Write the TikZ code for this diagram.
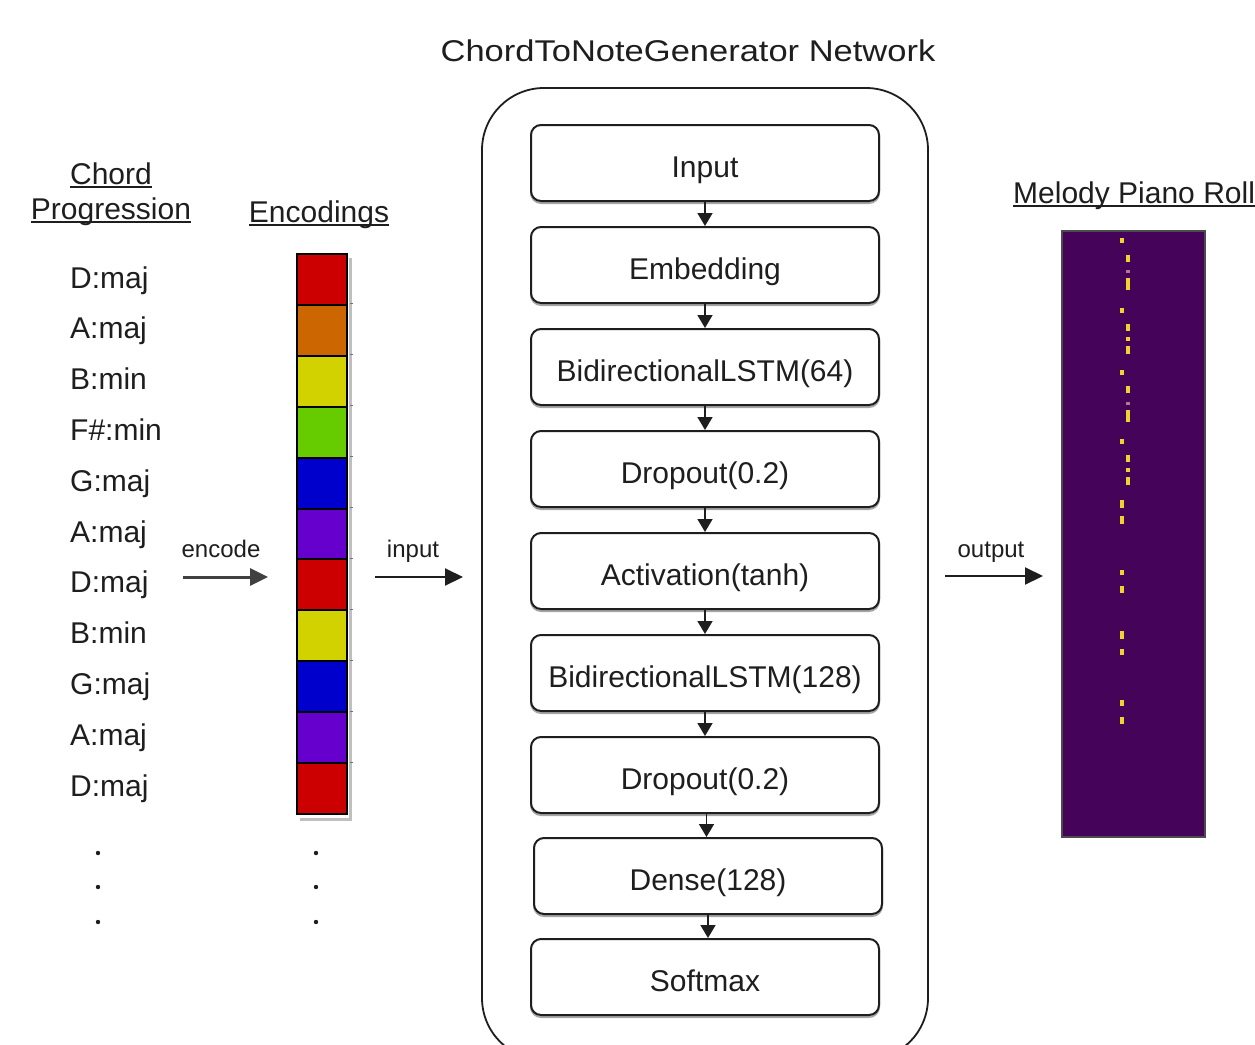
\documentclass[tikz,border=0pt]{standalone}
\usepackage{fontspec}
\setmainfont{Liberation Sans}
\usetikzlibrary{arrows.meta}

\definecolor{ink}{HTML}{1E1E1E}
\definecolor{encred}{HTML}{CC0000}
\definecolor{encorange}{HTML}{CC6600}
\definecolor{encyellow}{HTML}{D2D200}
\definecolor{encgreen}{HTML}{66CC00}
\definecolor{encblue}{HTML}{0000CC}
\definecolor{encpurple}{HTML}{6600CC}
\definecolor{rollbg}{HTML}{45045A}
\definecolor{rollnote}{HTML}{F2D22E}
\definecolor{rollfaint}{HTML}{B07A8C}

\tikzset{
  txt/.style={font=\fontsize{30}{36}\selectfont, text=ink, inner sep=0pt},
  small/.style={font=\fontsize{24}{28}\selectfont, text=ink, inner sep=0pt},
  hdr/.style={txt, anchor=base},
  layer/.style={draw=ink, line width=2pt, rounded corners=10pt, minimum width=348pt,
    minimum height=76pt, inner sep=0pt, font=\fontsize{30}{36}\selectfont, text=ink,
    text height=28pt, text depth=0pt, fill=white},
  layershadow/.style={draw=black!35, line width=2pt, rounded corners=10pt},
  flow/.style={-{Triangle[length=13pt,width=15pt]}, line width=1.6pt, draw=ink},
  side/.style={-{Triangle[length=18pt,width=17pt]}, line width=2pt, draw=ink},
  cell/.style={draw=black, line width=2pt, minimum width=50pt, minimum height=50.9pt,
    inner sep=0pt},
}

\begin{document}
\begin{tikzpicture}[x=1pt,y=-1pt]
\useasboundingbox (0,0) rectangle (1255,1044);
\fill[white] (0,0) rectangle (1255,1044);

% ---------- left column: chord progression ----------
\node[hdr] (hchord) at (111,184) {Chord\ };
\node[hdr] (hprog) at (111,219) {Progression};
\draw[ink, line width=1.6pt] ([yshift=-3pt]hchord.base west) -- ([yshift=-3pt]hchord.base east);
\draw[ink, line width=1.6pt] ([yshift=-3pt]hprog.base west) -- ([yshift=-3pt]hprog.base east);

\foreach \lab [count=\i] in {D:maj,A:maj,B:min,F\#:min,G:maj,A:maj,D:maj,B:min,G:maj,A:maj,D:maj}{
  \node[txt, anchor=base west] (c\i) at (70,{288+50.8*(\i-1)}) {\lab};
}
\foreach \y [count=\i] in {853,887,922}{
  \fill[ink] (98,\y) circle (2.2pt);
  \fill[ink] (316,\y) circle (2.2pt);
}

% ---------- encodings column ----------
\node[hdr] (henc) at (319,222) {Encodings};
\draw[ink, line width=1.6pt] ([yshift=-3pt]henc.base west) -- ([yshift=-3pt]henc.base east);

% drop shadow behind the column
\draw[black!25, line width=3pt] (350,258) -- (350,819) -- (300,819);
\foreach \i in {1,...,10}{
  \draw[black!55, line width=1pt] (350,{253+50.9*\i}) -- (353,{253+50.9*\i});
}
\foreach \col [count=\i] in {encred,encorange,encyellow,encgreen,encblue,encpurple,encred,encyellow,encblue,encpurple,encred}{
  \node[cell, fill=\col, anchor=north west] (e\i) at (296,{253+50.9*(\i-1)}) {};
}

% ---------- network ----------
\node[txt, anchor=base] (title) at (688,61) {\scalebox{1.15}[1]{ChordToNoteGenerator Network}};
\node[draw=ink, line width=1.8pt, rounded corners=62pt, minimum width=446pt,
      minimum height=972pt, inner sep=0pt] (net) at (705,574) {};

\foreach \lab/\x/\y [count=\i] in {Input/705/163, Embedding/705/265,
    BidirectionalLSTM(64)/705/367, Dropout(0.2)/705/469, Activation(tanh)/705/571,
    BidirectionalLSTM(128)/705/673, Dropout(0.2)/705/775, Dense(128)/708/876,
    Softmax/705/977}{
  \draw[layershadow] (\x-174,\y-36) rectangle (\x+174,\y+40);
  \node[layer] (l\i) at (\x,\y) {\lab};
}
\foreach \a/\b in {1/2,2/3,3/4,4/5,5/6,6/7,8/9}{
  \draw[flow] (l\a.south) -- (l\a.south |- l\b.north);
}
\draw[flow] ([xshift=1.5pt]l7.south) -- ([xshift=1.5pt]l7.south |- l8.north);

% ---------- melody piano roll ----------
\node[hdr, anchor=base west] (hroll) at (1013,203) {Melody Piano Roll};
\draw[ink, line width=1.6pt] ([yshift=-3pt]hroll.base west) -- ([yshift=-3pt]hroll.base east);

\node[draw=black!70, fill=rollbg, line width=1.5pt, minimum width=143pt,
      minimum height=606pt, inner sep=0pt, anchor=north west] (roll) at (1061,230) {};
\foreach \x/\y/\h in {1122/240.5/5, 1128/258/7, 1128/284/12, 1122/310/5, 1128/327/7,
    1128/339/4, 1128/350/8, 1122/372/5, 1128/389/7, 1128/416/12, 1122/441/5,
    1128/458/7, 1128/470/4, 1128/481/8, 1122/504/8, 1122/520/8, 1122/572/5,
    1122/589/7, 1122/635/8, 1122/652/6, 1122/703/6, 1122/720/7}{
  \fill[rollnote] (\x-2,\y-\h/2) rectangle (\x+2,\y+\h/2);
}
\foreach \y in {271.7,403}{
  \fill[rollfaint] (1126,\y-1.5) rectangle (1130,\y+1.5);
}

% ---------- side connectors ----------
\coordinate (encA) at (183,577);
\coordinate (encB) at (268,577);
\coordinate (inA) at (375,577);
\coordinate (inB) at (463,577);
\coordinate (outA) at (945,576);
\coordinate (outB) at (1043,576);
\draw[side, draw=black!75, line width=3pt] (encA) -- (encB);
\draw[side] (inA) -- (inB);
\draw[side] (outA) -- (outB);
\node[small, anchor=base] (tenc) at (221,557) {encode};
\node[small, anchor=base] (tin) at (413,557) {input};
\node[small, anchor=base] (tout) at (991,557) {output};
\end{tikzpicture}
\end{document}
